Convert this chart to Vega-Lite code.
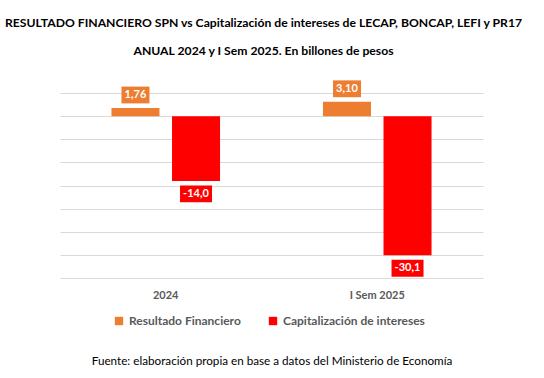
{
  "$schema": "https://vega.github.io/schema/vega-lite/v6.json",
  "width": 423,
  "height": 185,
  "autosize": {"type": "none"},
  "padding": {"left": 60, "top": 93, "right": 61, "bottom": 100},
  "background": "white",
  "config": {
    "view": {"stroke": null},
    "font": "Lato",
    "locale": {"number": {"decimal": ",", "thousands": ".", "grouping": [3], "currency": ["$", ""], "minus": "-"}}
  },
  "title": {
    "text": ["RESULTADO FINANCIERO SPN vs Capitalización de intereses de LECAP, BONCAP, LEFI y PR17", "ANUAL 2024 y I Sem 2025. En billones de pesos"],
    "fontSize": 12.2,
    "fontWeight": "bold",
    "color": "#000000",
    "lineHeight": 28,
    "offset": 23,
    "dx": -8
  },
  "data": {
    "values": [
      {"periodo": "2024", "serie": "Resultado Financiero", "valor": 1.76},
      {"periodo": "2024", "serie": "Capitalización de intereses", "valor": -14.0},
      {"periodo": "I Sem 2025", "serie": "Resultado Financiero", "valor": 3.10},
      {"periodo": "I Sem 2025", "serie": "Capitalización de intereses", "valor": -30.1}
    ]
  },
  "encoding": {
    "x": {
      "field": "periodo", "type": "nominal", "sort": ["2024", "I Sem 2025"],
      "scale": {"paddingInner": 0, "paddingOuter": 0},
      "axis": {
        "labelAngle": 0, "domain": false, "ticks": false, "labelPadding": 11,
        "labelFontSize": 11, "labelFontWeight": "bold", "labelColor": "#595959",
        "title": "Fuente: elaboración propia en base a datos del Ministerio de Economía",
        "titleFontSize": 11.7, "titleFontWeight": "normal", "titleColor": "#000000",
        "titleBaseline": "middle", "titleY": 82
      }
    },
    "xOffset": {
      "field": "serie", "type": "nominal", "sort": ["Resultado Financiero", "Capitalización de intereses"],
      "scale": {"paddingInner": 0.207, "paddingOuter": 0.85}
    },
    "y": {
      "field": "valor", "type": "quantitative",
      "scale": {"domain": [-35, 5], "nice": false},
      "axis": {"values": [-35, -30, -25, -20, -15, -10, -5, 0, 5], "labels": false, "ticks": false, "domain": false, "title": null, "gridColor": "#d9d9d9", "gridWidth": 1}
    },
    "color": {
      "field": "serie", "type": "nominal",
      "scale": {"domain": ["Resultado Financiero", "Capitalización de intereses"], "range": ["#ED7D31", "#FF0000"]},
      "legend": {
        "orient": "none", "legendX": 53, "legendY": 222, "direction": "horizontal",
        "title": null, "symbolType": "square", "symbolSize": 70, "symbolStrokeWidth": 0,
        "labelFontSize": 12, "labelFontWeight": "bold", "labelColor": "#595959",
        "columnPadding": 26, "labelOffset": 4
      }
    }
  },
  "layer": [
    {"mark": {"type": "bar"}},
    {
      "transform": [{"filter": "datum.valor > 0"}],
      "mark": {"type": "point", "shape": "M-1,-0.6H1V0.6H-1Z", "size": 784, "filled": true, "opacity": 1, "yOffset": -13}
    },
    {
      "transform": [{"filter": "datum.valor < 0"}],
      "mark": {"type": "point", "shape": "M-1,-0.53H1V0.53H-1Z", "size": 1024, "filled": true, "opacity": 1, "yOffset": 13}
    },
    {
      "transform": [{"filter": "datum.valor > 0"}],
      "mark": {"type": "text", "color": "white", "fontWeight": "bold", "fontSize": 11, "yOffset": -13, "baseline": "middle"},
      "encoding": {"text": {"field": "valor", "type": "quantitative", "format": ".2f"}, "color": {"value": "white"}}
    },
    {
      "transform": [{"filter": "datum.valor < 0"}],
      "mark": {"type": "text", "color": "white", "fontWeight": "bold", "fontSize": 11, "yOffset": 13, "baseline": "middle"},
      "encoding": {"text": {"field": "valor", "type": "quantitative", "format": ".1f"}, "color": {"value": "white"}}
    }
  ]
}
